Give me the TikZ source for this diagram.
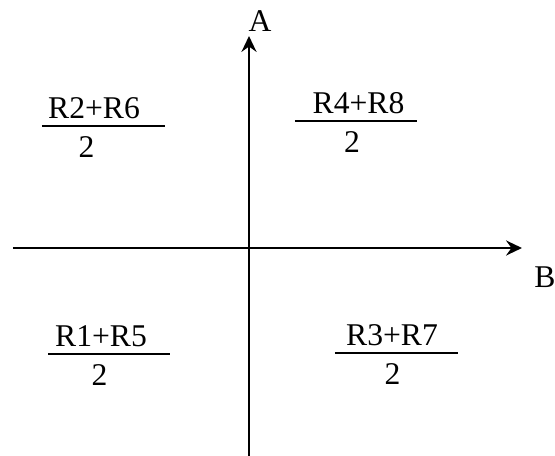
\documentclass[tikz,border=0pt]{standalone}
\usepackage{fontspec}
\setmainfont{Liberation Serif}
\usetikzlibrary{arrows.meta}

\begin{document}
\begin{tikzpicture}[line width=1.6pt,>={Stealth[length=9pt,width=8.5pt,inset=3pt]},
  every node/.style={font=\fontsize{18}{21}\selectfont,inner sep=0pt}]
\useasboundingbox (0,0) rectangle (11.1,9.12);
% ---------- axes ----------
\coordinate (ybot) at (4.98,0);
\coordinate (ytop) at (4.98,8.40);
\coordinate (xleft) at (0.26,4.16);
\coordinate (xright) at (10.44,4.16);
\draw[->] (ybot) -- (ytop);
\draw[->] (xleft) -- (xright);
\node[anchor=base] (labA) at (5.20,8.48) {A};
\node[anchor=base] (labB) at (10.90,3.36) {B};
% ---------- quadrant fractions ----------
% #1 = name, #2,#3 = bar ends, #4 = bar height, #5 = numerator x, #6 = denominator x, #7 = numerator
\newcommand{\qfrac}[7]{%
  \draw[line width=1.1pt] (#2,#4) -- (#3,#4);
  \node[anchor=base] (#1num) at (#5,{#4+0.15}) {#7};
  \node[anchor=base] (#1den) at (#6,{#4-0.64}) {2};
}
\qfrac{ul}{0.84}{3.30}{6.60}{1.88}{1.73}{R2+R6}
\qfrac{ur}{5.90}{8.34}{6.70}{7.17}{7.04}{R4+R8}
\qfrac{ll}{0.96}{3.40}{2.04}{2.02}{1.99}{R1+R5}
\qfrac{lr}{6.70}{9.16}{2.06}{7.84}{7.85}{R3+R7}
\end{tikzpicture}
\end{document}
